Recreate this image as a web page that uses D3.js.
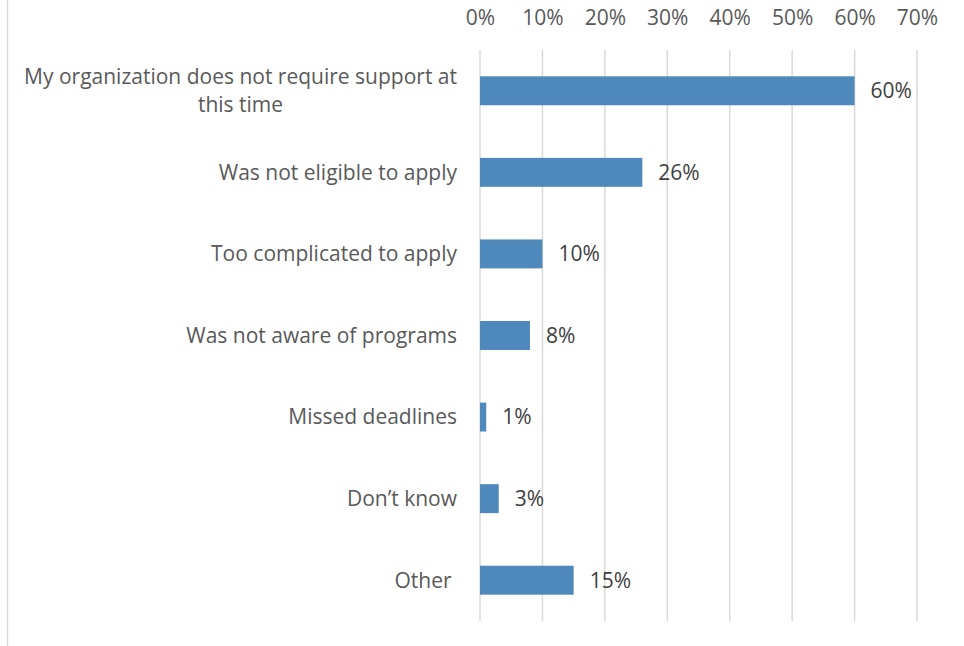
<!DOCTYPE html>
<html>
<head>
<meta charset="utf-8">
<script src="https://cdn.jsdelivr.net/npm/d3@7"></script>
<style>
  html, body { margin: 0; padding: 0; background: #fff; }
  svg { display: block; }
  text { font-family: "Open Sans", "Lato", sans-serif; }
</style>
</head>
<body>
<svg id="chart" width="964" height="646"></svg>
<script>
// Reasons for not applying to support programs
const categories = [
  "My organization does not require support at|this time",
  "Was not eligible to apply",
  "Too complicated to apply",
  "Was not aware of programs",
  "Missed deadlines",
  "Don\u2019t know",
  "Other "
];
const values = [60, 26, 10, 8, 1, 3, 15];
const tickValues = [0, 10, 20, 30, 40, 50, 60, 70];

const svg = d3.select("#chart");
const W = 964, H = 646;
const margin = { top: 50, right: 47, bottom: 25, left: 480 };
const FS = "21px";

const x = d3.scaleLinear().domain([0, 70]).range([margin.left, W - margin.right]);
const y = d3.scaleBand().domain(categories).range([margin.top, H - margin.bottom])
  .paddingInner(0.645).paddingOuter(0.3225);

// outer frame edge on the left
svg.append("line")
  .attr("x1", 7.5).attr("x2", 7.5).attr("y1", 0).attr("y2", H)
  .attr("stroke", "#d9d9d9").attr("stroke-width", 1.5);

// vertical gridlines
svg.append("g").selectAll("line").data(tickValues).join("line")
  .attr("x1", d => x(d)).attr("x2", d => x(d))
  .attr("y1", margin.top).attr("y2", H - margin.bottom)
  .attr("stroke", "#d9d9d9").attr("stroke-width", 1.5);

// top axis labels
const axis = svg.append("g")
  .attr("transform", `translate(0,${margin.top})`)
  .call(d3.axisTop(x).tickValues(tickValues).tickFormat(d => d + "%").tickSize(0).tickPadding(25));
axis.select(".domain").remove();
axis.selectAll("text")
  .attr("fill", "#595959").style("font-size", FS).style("font-family", "'Open Sans', Lato, sans-serif");

// bars
svg.append("g").selectAll("rect").data(values).join("rect")
  .attr("x", x(0))
  .attr("y", (d, i) => y(categories[i]))
  .attr("width", d => x(d) - x(0))
  .attr("height", y.bandwidth())
  .attr("fill", "#4f88bb");

// value labels
svg.append("g").selectAll("text").data(values).join("text")
  .attr("x", d => x(d) + 16)
  .attr("y", (d, i) => y(categories[i]) + y.bandwidth() / 2)
  .attr("dy", "0.35em")
  .attr("fill", "#404040")
  .style("font-size", FS)
  .text(d => d + "%");

// category labels (right-aligned block, lines centred within it)
const catG = svg.append("g");
categories.forEach(c => {
  const lines = c.split("|");
  const cy = y(c) + y.bandwidth() / 2;
  const t = catG.append("text")
    .attr("fill", "#595959")
    .style("font-size", FS)
    .style("white-space", "pre");
  const lh = 28;
  lines.forEach((ln, j) => {
    t.append("tspan").attr("x", 0)
      .attr("y", cy + (j - (lines.length - 1) / 2) * lh)
      .attr("dy", "0.35em")
      .text(ln);
  });
  const right = x(0) - 23;
  const widths = [];
  t.selectAll("tspan").each(function () { widths.push(this.getComputedTextLength()); });
  const maxW = d3.max(widths);
  const center = right - maxW / 2;
  t.selectAll("tspan").attr("x", center).attr("text-anchor", "middle");
});
</script>
</body>
</html>
